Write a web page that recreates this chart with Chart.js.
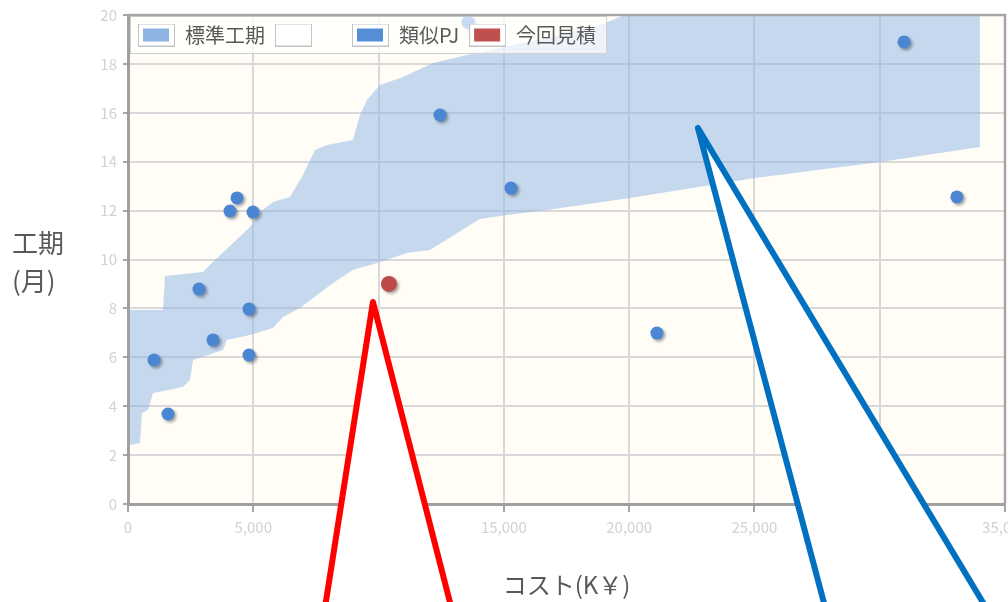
<!DOCTYPE html>
<html lang="ja">
<head>
<meta charset="UTF-8">
<title>工期・コスト分布</title>
<script src="https://cdn.jsdelivr.net/npm/chart.js"></script>
<style>
  body { margin: 0; background: #fff; }
</style>
</head>
<body>
<canvas id="kikanChart" width="1008" height="602"></canvas>
<script>
// 標準工期の帯（上限ライン）
const bandUpperCost = [80, 1397, 1476, 2993, 3392, 4868, 5267, 5786, 6464, 6983, 7462, 7941, 8978, 9258, 9537, 10056, 10974, 12171, 13527, 15363, 17239, 18835, 19833, 33998];
const bandUpperMonths = [7.93, 7.93, 9.33, 9.49, 9.90, 11.33, 11.94, 12.35, 12.56, 13.46, 14.48, 14.68, 14.89, 15.91, 16.52, 17.14, 17.46, 18.04, 18.36, 18.77, 19.18, 19.59, 20, 20];
// 標準工期の帯（下限ライン）
const bandLowerCost = [80, 479, 559, 798, 998, 2195, 2474, 2594, 3791, 3950, 4868, 5786, 6185, 6863, 8180, 8978, 9936, 11133, 12051, 13527, 14046, 15124, 16720, 20032, 22027, 25020, 30008, 33998];
const bandLowerMonths = [2.41, 2.49, 3.72, 3.84, 4.54, 4.79, 5.07, 5.89, 6.30, 6.71, 6.91, 7.20, 7.65, 8.02, 9.04, 9.57, 9.86, 10.27, 10.39, 11.33, 11.66, 11.82, 12.02, 12.52, 12.84, 13.33, 13.99, 14.60];
// 類似PJ
const similarCost = [30970, 12450, 15283, 33080, 4350, 4070, 4988, 2833, 4828, 3392, 1037, 4828, 1596, 21109, 13567];
const similarMonths = [18.90, 15.91, 12.92, 12.56, 12.52, 11.98, 11.94, 8.79, 7.98, 6.71, 5.89, 6.09, 3.68, 6.99, 19.71];
// 今回見積
const estimateCost = [10415];
const estimateMonths = [9.00];

const legendLabels = ["標準工期", "\u3000", "類似PJ", "今回見積"];
const xMin = 0, xMax = 35000, xStep = 5000;
const yMin = 0, yMax = 20, yStep = 2;

// 吹き出しの尻尾（データ座標）
const calloutRedCost = [7821, 9776, 12969];
const calloutRedMonths = [-4.5, 8.26, -4.5];
const calloutBlueCost = [27893, 22745, 34397];
const calloutBlueMonths = [-4.5, 15.38, -4.5];

const toPoints = (xs, ys) => xs.map((x, i) => ({x: x, y: ys[i]}));

// 凡例の四角（白枠つき）
function makeSwatch(fill) {
    const c = document.createElement("canvas");
    c.width = 37; c.height = 23;
    const g = c.getContext("2d");
    g.fillStyle = "#fff";
    g.fillRect(0, 0, 37, 23);
    g.strokeStyle = "#c4c4c4";
    g.lineWidth = 1;
    g.strokeRect(0.5, 0.5, 36, 22);
    if (fill) {
        g.fillStyle = fill;
        g.fillRect(5, 5, 26, 13);
    }
    return c;
}
const swatches = [makeSwatch("#8DB4E2"), makeSwatch(null), makeSwatch("#558ED5"), makeSwatch("#C0504D")];

const decor = {
    id: "decor",
    beforeDraw(chart) {
        const a = chart.chartArea, ctx = chart.ctx;
        ctx.save();
        ctx.fillStyle = "#FFFDF6";
        ctx.fillRect(a.left, a.top, a.right - a.left, a.bottom - a.top);
        ctx.restore();
    },
    beforeDatasetDraw(chart, args) {
        if (args.index < 2) return;
        const ctx = chart.ctx;
        ctx.save();
        ctx.shadowColor = "rgba(0,0,0,0.35)";
        ctx.shadowBlur = 3;
        ctx.shadowOffsetX = 2;
        ctx.shadowOffsetY = 2;
    },
    afterDatasetDraw(chart, args) {
        if (args.index < 2) return;
        chart.ctx.restore();
    },
    afterDatasetsDraw(chart) {
        const a = chart.chartArea, ctx = chart.ctx;
        const hb = chart.legend.legendHitBoxes;
        const first = hb[0], last = hb[hb.length - 1];
        // 凡例の背景（プロットの上に重ねる）
        ctx.save();
        ctx.fillStyle = "rgba(255,255,255,0.7)";
        ctx.strokeStyle = "#d0d0d0";
        ctx.lineWidth = 1;
        const bx = a.left + 2, by = a.top + 1;
        const bw = last.left + last.width + 10 - bx, bh = first.top + first.height + 8 - by;
        ctx.fillRect(bx, by, bw, bh);
        ctx.strokeRect(bx + 0.5, by + 0.5, bw, bh);
        ctx.restore();
        chart.legend._draw();
        // 上と右の枠線
        ctx.save();
        ctx.strokeStyle = "#a6a6a6";
        ctx.lineWidth = 2.5;
        ctx.beginPath();
        ctx.moveTo(a.left, a.top);
        ctx.lineTo(a.right, a.top);
        ctx.lineTo(a.right, a.bottom);
        ctx.stroke();
        ctx.restore();
    },
    afterDraw(chart) {
        const a = chart.chartArea, ctx = chart.ctx;
        const xs = chart.scales.x, ys = chart.scales.y;
        // 縦軸タイトル（横書き）
        ctx.save();
        ctx.font = '26px "Noto Sans CJK JP"';
        ctx.fillStyle = "#595959";
        ctx.textAlign = "left";
        ctx.textBaseline = "middle";
        const mid = (a.top + a.bottom) / 2;
        ctx.fillText("工期", 12, mid - 16);
        ctx.fillText("(月)", 12, mid + 22);
        ctx.restore();
        // 吹き出し
        const callouts = [
            [calloutRedCost, calloutRedMonths, "#FF0000"],
            [calloutBlueCost, calloutBlueMonths, "#0070C0"]
        ];
        callouts.forEach(([cx, cy, color]) => {
            ctx.save();
            ctx.beginPath();
            cx.forEach((v, i) => {
                const px = xs.getPixelForValue(v), py = ys.getPixelForValue(cy[i]);
                if (i === 0) ctx.moveTo(px, py); else ctx.lineTo(px, py);
            });
            ctx.fillStyle = "#fff";
            ctx.fill();
            ctx.strokeStyle = color;
            ctx.lineWidth = 6;
            ctx.lineJoin = "round";
            ctx.stroke();
            ctx.restore();
        });
    }
};

Chart.defaults.font.family = '"Noto Sans CJK JP", "Noto Sans", sans-serif';

const ctx = document.getElementById("kikanChart").getContext("2d");
new Chart(ctx, {
    type: "scatter",
    data: {
        datasets: [
            {
                type: "line",
                label: legendLabels[0],
                data: toPoints(bandUpperCost, bandUpperMonths),
                backgroundColor: "rgba(142,180,227,0.5)",
                borderColor: "transparent",
                borderWidth: 0,
                pointRadius: 0,
                fill: "+1",
            },
            {
                type: "line",
                label: legendLabels[1],
                data: toPoints(bandLowerCost, bandLowerMonths),
                backgroundColor: "transparent",
                borderColor: "transparent",
                borderWidth: 0,
                pointRadius: 0,
                fill: false,
            },
            {
                label: legendLabels[2],
                data: toPoints(similarCost, similarMonths),
                backgroundColor: "#4A86D2",
                borderWidth: 0,
                pointRadius: 6.5,
            },
            {
                label: legendLabels[3],
                data: toPoints(estimateCost, estimateMonths),
                backgroundColor: "#BF4B48",
                borderWidth: 0,
                pointRadius: 8,
            },
        ],
    },
    options: {
        responsive: false,
        animation: false,
        layout: { autoPadding: false, padding: { top: 15, right: 3, left: 0, bottom: 0 } },
        plugins: {
            filler: { drawTime: "beforeDatasetsDraw" },
            tooltip: { enabled: false },
            legend: {
                position: "top",
                align: "start",
                fullSize: false,
                maxHeight: 0.01,
                labels: {
                    usePointStyle: true,
                    pointStyleWidth: 37,
                    boxHeight: 20,
                    padding: 10,
                    color: "#595959",
                    font: { size: 20 },
                    generateLabels: (chart) =>
                        Chart.defaults.plugins.legend.labels.generateLabels(chart).map((item) => {
                            item.pointStyle = swatches[item.datasetIndex];
                            return item;
                        }),
                },
            },
        },
        scales: {
            x: {
                type: "linear",
                min: xMin,
                max: xMax,
                ticks: { stepSize: xStep, color: "#d2d2d2", font: { size: 15 }, padding: 6, maxRotation: 0, autoSkip: false },
                grid: { color: "#d9d9d9", lineWidth: 2, tickColor: "#a6a6a6", tickLength: 8, tickWidth: 2 },
                border: { color: "#a0a0a0", width: 3 },
                title: { display: true, text: "コスト(K￥)", color: "#595959", font: { size: 24 }, padding: { top: 0, bottom: 3 } },
                afterFit: (s) => { s.height = 98; s.paddingLeft = 0; s.paddingRight = 0; },
            },
            y: {
                min: yMin,
                max: yMax,
                ticks: { stepSize: yStep, color: "#d2d2d2", font: { size: 15 }, padding: 6 },
                grid: { color: "#d9d9d9", lineWidth: 2, tickColor: "#a6a6a6", tickLength: 5, tickWidth: 2 },
                border: { color: "#a0a0a0", width: 3 },
                afterFit: (s) => { s.width = 128; s.paddingTop = 0; s.paddingBottom = 0; },
            },
        },
    },
    plugins: [decor],
});
</script>
</body>
</html>
